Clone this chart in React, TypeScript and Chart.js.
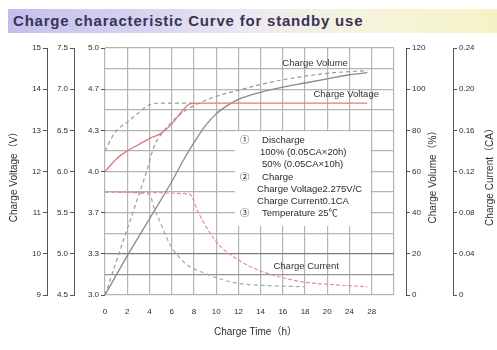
import React, { useEffect, useRef } from 'react';
import { Chart, registerables } from 'chart.js';
Chart.register(...registerables);

const FONT = '"Liberation Sans", Arial, "Noto Sans CJK SC", sans-serif';

// x axis: one grid step per label
const timeLabels = ['0', '2', '4', '6', '8', '10', '12', '14', '16', '18', '20', '24', '28', ''];
// third left axis labels (per-cell style scale)
const cellLabels = ['3.0', '3.3', '3.7', '4.0', '4.3', '4.7', '5.0'];

// Charge voltage, 100% discharge (red solid) – 12V scale
const volt100X = [0, 0.5, 1, 1.5, 2, 2.5, 3, 3.4, 3.85, 4.5, 8, 11.8];
const volt100Y = [12.0, 12.3, 12.5, 12.65, 12.8, 12.92, 13.15, 13.42, 13.65, 13.66, 13.66, 13.66];

// Charge voltage, 50% discharge (grey dashed)
const volt50X = [0, 0.45, 1.0, 1.5, 2.0, 2.5, 4.0];
const volt50Y = [12.5, 12.95, 13.2, 13.42, 13.62, 13.66, 13.66];

// Charge volume, 100% discharge (grey solid) – %
const vol100X = [0, 1, 2, 3, 3.5, 4, 4.5, 5, 5.5, 6, 7, 8, 9, 10, 11, 11.8];
const vol100Y = [0, 19, 37, 55, 65, 74, 82, 88, 92, 95, 98.5, 101, 103, 105, 107, 108];

// Charge volume, 50% discharge (grey dashed)
const vol50X = [0, 0.5, 1, 1.5, 1.9, 2.2, 2.6, 3.0, 3.6, 4.3, 5, 6, 7.3, 8.8, 10.3, 11.8];
const vol50Y = [0, 16, 32, 48, 61, 72, 79, 84, 89.5, 93.5, 96.5, 99.5, 103, 106, 108, 109];

// Charge current, 100% discharge (red) – CA
const cur100X = [0, 3.8, 4.2, 4.7, 5.2, 5.8, 6.5, 7.3, 8.8, 10.3, 11.8];
const cur100Y = [0.1, 0.098, 0.08, 0.061, 0.047, 0.037, 0.028, 0.021, 0.013, 0.01, 0.008];

// Charge current, 50% discharge (grey dashed)
const cur50X = [0, 2.0, 2.2, 2.5, 2.9, 3.6, 4.5, 5.8, 7.5, 9];
const cur50Y = [0.1, 0.098, 0.085, 0.07, 0.05, 0.031, 0.021, 0.012, 0.009, 0.008];

const boxLines: [string, string, number][] = [
  ['①', 'Discharge', 0],
  ['', '100% (0.05CA×20h)', -2],
  ['', '50% (0.05CA×10h)', 0],
  ['②', 'Charge', 0],
  ['', 'Charge Voltage2.275V/C', -5],
  ['', 'Charge Current0.1CA', -5],
  ['③', 'Temperature 25℃', 0],
];

const pts = (xs: number[], ys: number[]) => xs.map((x, i) => ({ x, y: ys[i] }));

const GRID = '#b4b4b4';
const AXIS = '#555';
const TICK = '#2e2e2e';

const annotate = {
  id: 'annotate',
  beforeDatasetsDraw(chart: any) {
    const { ctx } = chart;
    const xs = chart.scales.x;
    const yg = chart.scales.yGrid;
    const l = xs.getPixelForValue(5.85);
    const r = xs.getPixelForValue(11.95);
    const t = yg.getPixelForValue(7.95);
    const b = yg.getPixelForValue(3.35);
    ctx.save();
    ctx.fillStyle = '#ffffff';
    ctx.fillRect(l, t, r - l, b - t);
    ctx.fillStyle = '#2a2a2a';
    ctx.font = '9.5px ' + FONT;
    ctx.textBaseline = 'middle';
    const step = (b - t) / 7.8;
    boxLines.forEach((ln, i) => {
      const y = t + step * (i + 0.75);
      if (ln[0]) ctx.fillText(ln[0], l + 5, y);
      ctx.fillText(ln[1], l + 27 + ln[2], y);
    });
    ctx.restore();
  },
  afterDraw(chart: any) {
    const { ctx, chartArea } = chart;
    const cy = (chartArea.top + chartArea.bottom) / 2 + 3;
    ctx.save();
    ctx.fillStyle = '#2e2e2e';
    ctx.font = '10px ' + FONT;
    ctx.textAlign = 'center';
    ctx.textBaseline = 'middle';
    const rot = (text: string, x: number, y: number) => {
      ctx.save();
      ctx.translate(x, y);
      ctx.rotate(-Math.PI / 2);
      ctx.fillText(text, 0, 0);
      ctx.restore();
    };
    rot('Charge Voltage（V）', 14, cy);
    rot('Charge Volume（%）', chart.scales.yVol.left + 27, cy);
    rot('Charge Current（CA）', chart.scales.yCur.left + 37, cy);
    ctx.fillText('Charge Time（h）', (chartArea.left + chartArea.right) / 2 + 6, chartArea.bottom + 37);

    // curve labels
    const xs = chart.scales.x;
    const yg = chart.scales.yGrid;
    ctx.font = '9.5px ' + FONT;
    ctx.fillStyle = '#333';
    ctx.fillText('Charge Volume', xs.getPixelForValue(9.45), yg.getPixelForValue(11.25));
    ctx.fillText('Charge Voltage', xs.getPixelForValue(10.85), yg.getPixelForValue(9.75));
    ctx.fillText('Charge Current', xs.getPixelForValue(9.05), yg.getPixelForValue(1.4));
    ctx.restore();
  },
};

export default function App() {
  const ref = useRef<HTMLCanvasElement>(null);
  useEffect(() => {
    const fixW = (w: number) => (s: any) => { s.width = w; };
    const tickFont = { family: FONT, size: 8 };
    const sideAxis = (extra: any) => ({
      display: true,
      grid: { drawOnChartArea: false, drawTicks: true, tickLength: 4, color: AXIS, lineWidth: 1 },
      border: { display: true, color: AXIS, width: 1 },
      ticks: { font: tickFont, color: TICK, padding: 2, autoSkip: false },
      ...extra,
    });
    const chart = new Chart(ref.current as HTMLCanvasElement, {
      type: 'line',
      data: {
        datasets: [
          { data: pts(volt100X, volt100Y), yAxisID: 'yV12', borderColor: '#e07a78', borderWidth: 1.3 },
          { data: pts(volt50X, volt50Y), yAxisID: 'yV12', borderColor: '#9a9a9a', borderWidth: 1.2, borderDash: [4, 3] },
          { data: pts(vol100X, vol100Y), yAxisID: 'yVol', borderColor: '#8a8a8a', borderWidth: 1.3 },
          { data: pts(vol50X, vol50Y), yAxisID: 'yVol', borderColor: '#9a9a9a', borderWidth: 1.2, borderDash: [4, 3] },
          { data: pts(cur100X, cur100Y), yAxisID: 'yCur', borderColor: '#e8908c', borderWidth: 1.2, borderDash: [4, 2] },
          { data: pts(cur50X, cur50Y), yAxisID: 'yCur', borderColor: '#a8a8a8', borderWidth: 1.2, borderDash: [4, 3] },
        ] as any,
      },
      options: {
        animation: false,
        responsive: false,
        parsing: false as any,
        layout: { padding: { left: 24, right: 0, top: 48, bottom: 13 } },
        elements: { point: { radius: 0 }, line: { cubicInterpolationMode: 'monotone', fill: false } },
        plugins: { legend: { display: false }, tooltip: { enabled: false }, title: { display: false } },
        scales: {
          x: {
            type: 'linear', min: 0, max: 13,
            grid: { color: GRID, lineWidth: 1.2, drawTicks: false },
            border: { display: false },
            ticks: {
              stepSize: 1, autoSkip: false, maxRotation: 0, padding: 12, font: tickFont, color: TICK,
              callback: (v: any) => timeLabels[v] ?? '',
            },
            afterFit: (s: any) => { s.height = 42; },
          },
          yGrid: {
            type: 'linear', position: 'left', weight: 0, min: 0, max: 12,
            grid: {
              drawTicks: false, lineWidth: 1.2,
              color: (c: any) => (c.tick && c.tick.value === 2 ? '#7c7c7c' : c.tick && c.tick.value === 1 ? '#959595' : GRID),
            },
            border: { display: false },
            ticks: { display: false, stepSize: 1 },
            afterFit: fixW(0),
          },
          yCell: sideAxis({
            type: 'linear', position: 'left', weight: 1, min: 0, max: 6,
            border: { display: false },
            ticks: { font: tickFont, color: TICK, padding: 2, stepSize: 1, autoSkip: false, callback: (v: any) => cellLabels[v] ?? '' },
            afterFit: fixW(31),
          }),
          yV6: sideAxis({
            type: 'linear', position: 'left', weight: 2, min: 4.5, max: 7.5,
            ticks: { font: tickFont, color: TICK, padding: 2, stepSize: 0.5, autoSkip: false, callback: (v: any) => Number(v).toFixed(1) },
            afterFit: fixW(27),
          }),
          yV12: sideAxis({
            type: 'linear', position: 'left', weight: 3, min: 9, max: 15,
            ticks: { font: tickFont, color: TICK, padding: 2, stepSize: 1, autoSkip: false },
            afterFit: fixW(23),
          }),
          ySpace: {
            type: 'linear', position: 'right', weight: 0, min: 0, max: 1,
            grid: { display: false }, border: { display: false }, ticks: { display: false },
            afterFit: fixW(12),
          },
          yVol: sideAxis({
            type: 'linear', position: 'right', weight: 1, min: 0, max: 120,
            ticks: { font: tickFont, color: TICK, padding: 2, stepSize: 20, autoSkip: false },
            afterFit: fixW(47),
          }),
          yCur: sideAxis({
            type: 'linear', position: 'right', weight: 2, min: 0, max: 0.24,
            ticks: {
              font: tickFont, color: TICK, padding: 2, stepSize: 0.04, autoSkip: false,
              callback: (v: any) => (Math.abs(v) < 1e-9 ? '0' : Number(v).toFixed(2)),
            },
            afterFit: fixW(44),
          }),
        } as any,
      },
      plugins: [annotate],
    });
    return () => chart.destroy();
  }, []);

  return (
    <div style={{ position: 'fixed', left: 0, top: 0, width: 497, height: 350, background: '#ffffff', overflow: 'hidden' }}>
      <canvas ref={ref} width={497} height={350} style={{ position: 'absolute', left: 0, top: 0 }} />
      <div
        style={{
          position: 'absolute', left: 8, top: 9, width: 489, height: 24,
          background: 'linear-gradient(to right, #c2bfee 0%, #d6d4f0 28%, #eceaf0 50%, #f5f4dc 72%, #f4f3c6 100%)',
          fontFamily: FONT, fontWeight: 'bold', fontSize: 15, lineHeight: '24px', color: '#3b3256',
          paddingLeft: 5, boxSizing: 'border-box', letterSpacing: 0.8, whiteSpace: 'nowrap',
        }}
      >
        Charge characteristic Curve for standby use
      </div>
    </div>
  );
}
